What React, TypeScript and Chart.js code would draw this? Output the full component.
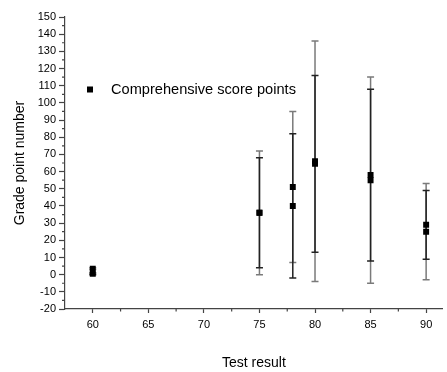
import React, { useEffect, useRef } from "react";
import { Chart, registerables } from "chart.js";

Chart.register(...registerables);

const xValues = [60, 75, 78, 80, 85, 90];
const scoreA = [3.5, 36, 51, 66, 55, 25];
const errA = [0.5, 36, 44, 70, 60, 28];
const scoreB = [0.5, 36, 40, 64.5, 58, 29];
const errB = [0.5, 32, 42, 51.5, 50, 20];
const xTickValues = [60, 65, 70, 75, 80, 85, 90];
const yTickValues = [-20, -10, 0, 10, 20, 30, 40, 50, 60, 70, 80, 90, 100, 110, 120, 130, 140, 150];
const legendLabel = "Comprehensive score points";
const xTitle = "Test result";
const yTitle = "Grade point number";

const FONT = 'Arial, "Liberation Sans", sans-serif';
const AXIS = "#444";

const errorBarPlugin = {
  id: "errorBars",
  beforeDatasetsDraw(chart: any) {
    const ctx = chart.ctx;
    const ys = chart.scales.y;
    chart.data.datasets.forEach((ds: any, di: number) => {
      const meta = chart.getDatasetMeta(di);
      ctx.save();
      ctx.strokeStyle = ds.errorColor;
      ctx.lineWidth = 1.5;
      meta.data.forEach((pt: any, i: number) => {
        const v = ds.data[i].y;
        const e = ds.errors[i];
        const top = ys.getPixelForValue(v + e);
        const bot = ys.getPixelForValue(v - e);
        ctx.beginPath();
        ctx.moveTo(pt.x, top);
        ctx.lineTo(pt.x, bot);
        ctx.moveTo(pt.x - 3.5, top);
        ctx.lineTo(pt.x + 3.5, top);
        ctx.moveTo(pt.x - 3.5, bot);
        ctx.lineTo(pt.x + 3.5, bot);
        ctx.stroke();
      });
      ctx.restore();
    });
  },
};

const extrasPlugin = {
  id: "extras",
  afterDraw(chart: any) {
    const ctx = chart.ctx;
    const xs = chart.scales.x;
    const ys = chart.scales.y;
    const area = chart.chartArea;
    ctx.save();
    ctx.strokeStyle = AXIS;
    ctx.lineWidth = 1.2;
    ctx.beginPath();
    for (let i = 0; i < yTickValues.length - 1; i++) {
      const v = (yTickValues[i] + yTickValues[i + 1]) / 2;
      const p = ys.getPixelForValue(v);
      ctx.moveTo(area.left - 3, p);
      ctx.lineTo(area.left, p);
    }
    const xMinor = [xTickValues[0] - 2.5, ...xTickValues.map((v) => v + 2.5)];
    xMinor.forEach((v) => {
      if (v <= xs.min || v >= xs.max) return;
      const p = xs.getPixelForValue(v);
      ctx.moveTo(p, area.bottom);
      ctx.lineTo(p, area.bottom + 2.5);
    });
    ctx.stroke();
    // legend
    const lx = area.left + 25;
    const ly = area.top + 72.5;
    ctx.fillStyle = "#000";
    ctx.fillRect(lx - 3, ly - 3, 6, 6);
    ctx.font = `14.6px ${FONT}`;
    ctx.textBaseline = "middle";
    ctx.textAlign = "left";
    ctx.fillText(legendLabel, lx + 21, ly + 0.5);
    ctx.restore();
  },
};

export default function App() {
  const ref = useRef<HTMLCanvasElement | null>(null);
  useEffect(() => {
    if (!ref.current) return;
    const mk = (ys: number[]) => xValues.map((x, i) => ({ x, y: ys[i] }));
    const chart = new Chart(ref.current, {
      type: "scatter",
      data: {
        datasets: [
          {
            label: legendLabel,
            data: mk(scoreA),
            errors: errA,
            errorColor: "#7a7a7a",
            pointStyle: "rect",
            pointRadius: 4.2,
            pointBackgroundColor: "#000",
            pointBorderWidth: 0,
            showLine: false,
          } as any,
          {
            label: legendLabel,
            data: mk(scoreB),
            errors: errB,
            errorColor: "#222",
            pointStyle: "rect",
            pointRadius: 4.2,
            pointBackgroundColor: "#000",
            pointBorderWidth: 0,
            showLine: false,
          } as any,
        ],
      },
      options: {
        animation: false,
        responsive: false,
        layout: { padding: { top: 17, right: 0, left: 0, bottom: 0 } },
        plugins: { legend: { display: false }, tooltip: { enabled: false } },
        scales: {
          x: {
            type: "linear",
            min: 57.5,
            max: 91.5,
            afterBuildTicks: (s: any) => {
              s.ticks = xTickValues.map((v) => ({ value: v }));
            },
            afterFit: (s: any) => {
              s.height = 63;
            },
            grid: { display: true, drawOnChartArea: false, drawTicks: true, tickLength: 4, tickColor: AXIS, tickWidth: 1.2 },
            border: { display: true, color: AXIS, width: 1.2 },
            ticks: { color: "#000", font: { size: 11, family: FONT }, padding: 5, maxRotation: 0, autoSkip: false },
            title: { display: true, text: xTitle, color: "#000", font: { size: 14, family: FONT }, padding: { top: 0, bottom: 0 } },
          },
          y: {
            type: "linear",
            min: -20,
            max: 150,
            afterBuildTicks: (s: any) => {
              s.ticks = yTickValues.map((v) => ({ value: v }));
            },
            afterFit: (s: any) => {
              s.width = 65;
            },
            grid: { display: true, drawOnChartArea: false, drawTicks: true, tickLength: 6, tickColor: AXIS, tickWidth: 1.2 },
            border: { display: true, color: AXIS, width: 1.2 },
            ticks: { color: "#000", font: { size: 11, family: FONT }, padding: 3, autoSkip: false },
            title: { display: true, text: yTitle, color: "#000", font: { size: 14, family: FONT }, padding: { top: 12, bottom: 0 } },
          },
        },
      } as any,
      plugins: [errorBarPlugin, extrasPlugin],
    });
    return () => chart.destroy();
  }, []);
  return (
    <div style={{ position: "absolute", left: 0, top: 0, width: 447, height: 372, background: "#fff" }}>
      <canvas ref={ref} width={447} height={372} style={{ display: "block" }} />
    </div>
  );
}
